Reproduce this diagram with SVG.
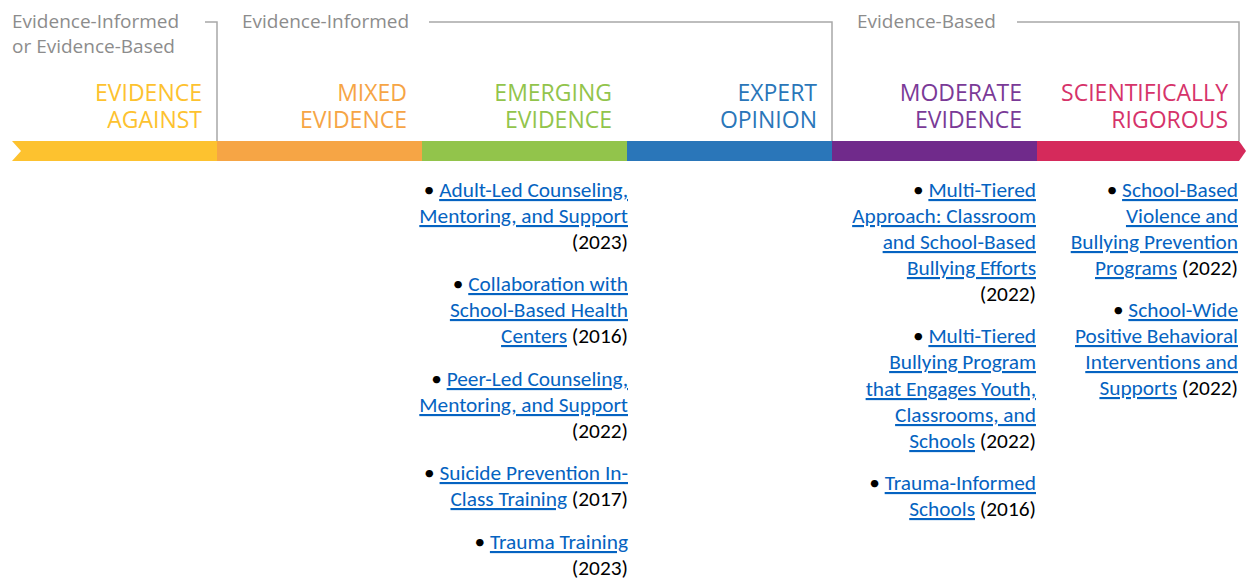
<svg xmlns="http://www.w3.org/2000/svg" width="1246" height="580" viewBox="0 0 1246 580">
<style>
.hdr{font-family:"Open Sans","Noto Sans",sans-serif;font-size:19px;fill:#8c8c8c}
.cat{font-family:"Open Sans","Noto Sans",sans-serif;font-size:23px;text-anchor:end}
.brk{fill:none;stroke:#a8a8a8;stroke-width:1.5}
.item{font-family:Carlito,Calibri,"Liberation Sans",sans-serif;font-size:21.33px;text-anchor:end;fill:#000}
.lk{fill:#0563c1;text-decoration:underline}
</style>
<rect width="1246" height="580" fill="#fff"/>
<g id="bar">
<polygon points="12,141 217,141 217,161 12,161 21,151" fill="#fdc22f"/>
<rect x="217" y="141" width="205" height="20" fill="#f6a545"/>
<rect x="422" y="141" width="205" height="20" fill="#92c44b"/>
<rect x="627" y="141" width="205" height="20" fill="#2a76b9"/>
<rect x="832" y="141" width="205" height="20" fill="#702a8b"/>
<polygon points="1037,141 1239,141 1246,151 1239,161 1037,161" fill="#d52a5b"/>
</g>
<g id="connectors">
<polyline class="brk" points="205,22 217,22 217,141"/>
<polyline class="brk" points="429,22 832,22 832,141"/>
<polyline class="brk" points="1017,22 1239,22 1239,141"/>
</g>
<g id="headers">
<text class="hdr" x="12" y="28">Evidence-Informed</text>
<text class="hdr" x="12" y="53">or Evidence-Based</text>
<text class="hdr" x="242" y="28">Evidence-Informed</text>
<text class="hdr" x="857" y="28">Evidence-Based</text>
</g>
<g id="cat-against"><text class="cat" fill="#fdc22f"><tspan x="202" y="101">EVIDENCE</tspan><tspan x="202" y="128">AGAINST</tspan></text></g>
<g id="cat-mixed"><text class="cat" fill="#f6a545"><tspan x="407" y="101">MIXED</tspan><tspan x="407" y="128">EVIDENCE</tspan></text></g>
<g id="cat-emerging"><text class="cat" fill="#92c44b"><tspan x="612" y="101">EMERGING</tspan><tspan x="612" y="128">EVIDENCE</tspan></text></g>
<g id="cat-expert"><text class="cat" fill="#2a76b9"><tspan x="817" y="101">EXPERT</tspan><tspan x="817" y="128">OPINION</tspan></text></g>
<g id="cat-moderate"><text class="cat" fill="#7a3a97"><tspan x="1022" y="101">MODERATE</tspan><tspan x="1022" y="128">EVIDENCE</tspan></text></g>
<g id="cat-rigorous"><text class="cat" fill="#d6336a"><tspan x="1228" y="101">SCIENTIFICALLY</tspan><tspan x="1228" y="128">RIGOROUS</tspan></text></g>
<g id="emerging-items">
<text class="item" x="628" y="197">• <tspan class="lk">Adult-Led Counseling,</tspan></text>
<text class="item" x="628" y="223"><tspan class="lk">Mentoring, and Support</tspan></text>
<text class="item" x="628" y="249">(2023)</text>
<text class="item" x="628" y="291">• <tspan class="lk">Collaboration with</tspan></text>
<text class="item" x="628" y="317"><tspan class="lk">School-Based Health</tspan></text>
<text class="item" x="628" y="343"><tspan class="lk">Centers</tspan> (2016)</text>
<text class="item" x="628" y="386">• <tspan class="lk">Peer-Led Counseling,</tspan></text>
<text class="item" x="628" y="412"><tspan class="lk">Mentoring, and Support</tspan></text>
<text class="item" x="628" y="438">(2022)</text>
<text class="item" x="628" y="480">• <tspan class="lk">Suicide Prevention In-</tspan></text>
<text class="item" x="628" y="506"><tspan class="lk">Class Training</tspan> (2017)</text>
<text class="item" x="628" y="549">• <tspan class="lk">Trauma Training</tspan></text>
<text class="item" x="628" y="575">(2023)</text>
</g>
<g id="moderate-items">
<text class="item" x="1036" y="197">• <tspan class="lk">Multi-Tiered</tspan></text>
<text class="item" x="1036" y="223"><tspan class="lk">Approach: Classroom</tspan></text>
<text class="item" x="1036" y="249"><tspan class="lk">and School-Based</tspan></text>
<text class="item" x="1036" y="275"><tspan class="lk">Bullying Efforts</tspan></text>
<text class="item" x="1036" y="301">(2022)</text>
<text class="item" x="1036" y="343">• <tspan class="lk">Multi-Tiered</tspan></text>
<text class="item" x="1036" y="369"><tspan class="lk">Bullying Program</tspan></text>
<text class="item" x="1036" y="396"><tspan class="lk">that Engages Youth,</tspan></text>
<text class="item" x="1036" y="422"><tspan class="lk">Classrooms, and</tspan></text>
<text class="item" x="1036" y="448"><tspan class="lk">Schools</tspan> (2022)</text>
<text class="item" x="1036" y="490">• <tspan class="lk">Trauma-Informed</tspan></text>
<text class="item" x="1036" y="516"><tspan class="lk">Schools</tspan> (2016)</text>
</g>
<g id="rigorous-items">
<text class="item" x="1238" y="197">• <tspan class="lk">School-Based</tspan></text>
<text class="item" x="1238" y="223"><tspan class="lk">Violence and</tspan></text>
<text class="item" x="1238" y="249"><tspan class="lk">Bullying Prevention</tspan></text>
<text class="item" x="1238" y="275"><tspan class="lk">Programs</tspan> (2022)</text>
<text class="item" x="1238" y="317">• <tspan class="lk">School-Wide</tspan></text>
<text class="item" x="1238" y="343"><tspan class="lk">Positive Behavioral</tspan></text>
<text class="item" x="1238" y="369"><tspan class="lk">Interventions and</tspan></text>
<text class="item" x="1238" y="395"><tspan class="lk">Supports</tspan> (2022)</text>
</g>
</svg>
